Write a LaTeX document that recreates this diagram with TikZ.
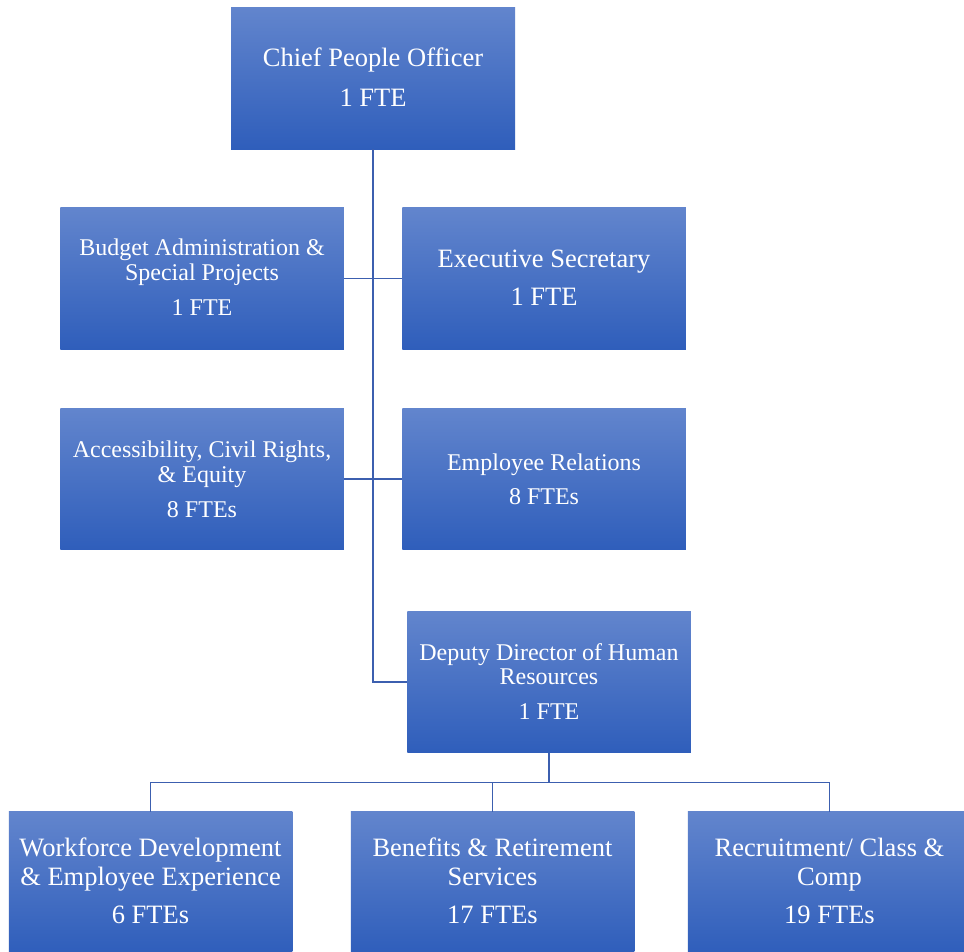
\documentclass[tikz,border=0pt]{standalone}
\usepackage{fontspec}
\setmainfont{Liberation Serif}
\definecolor{boxtop}{RGB}{98,133,205}
\definecolor{boxbot}{RGB}{47,94,187}
\definecolor{linec}{RGB}{60,95,175}
\tikzset{
  orgbox/.style={rectangle, draw=none, inner sep=0pt, minimum width=283.5pt, minimum height=141.5pt, top color=boxtop, bottom color=boxbot},
  bigtxt/.style={anchor=base, inner sep=0pt, text=white, font=\fontsize{26.5}{28}\selectfont},
  smalltxt/.style={anchor=base, inner sep=0pt, text=white, font=\fontsize{24}{25}\selectfont},
  conn/.style={draw=linec, line width=1.8pt}
}
\begin{document}
\begin{tikzpicture}[x=1pt, y=-1pt]
\clip (0,0) rectangle (964,951);
\fill[white] (0,0) rectangle (964,951);
% boxes
\node[orgbox, minimum width=284pt, minimum height=142pt] (chief) at (373,78) {};
\node[orgbox] (budget) at (202,278.5) {};
\node[orgbox] (exec) at (544,278.5) {};
\node[orgbox] (access) at (202,479) {};
\node[orgbox] (emprel) at (544,479) {};
\node[orgbox] (deputy) at (549,682) {};
\node[orgbox] (wf) at (150.5,882.5) {};
\node[orgbox] (ben) at (492.5,882.5) {};
\node[orgbox] (rec) at (829.5,882.5) {};
% connectors
\draw[conn] (chief.south) |- (deputy.west);
\draw[conn] (budget.east) -- (exec.west);
\draw[conn] (access.east) -- (emprel.west);
\coordinate (bus) at ([yshift=-29.5pt]deputy.south);
\draw[conn] (deputy.south) -- (bus);
\draw[conn] (bus) -| (wf.north);
\draw[conn] (bus) -| (rec.north);
\draw[conn] (bus -| ben.north) -- (ben.north);
% texts
\node[bigtxt] (chief-a) at ([yshift=-60pt]chief.north) {Chief People Officer};
\node[bigtxt] (chief-b) at ([yshift=-100pt]chief.north) {1 FTE};
\node[smalltxt] (budget-a) at ([yshift=-47.5pt]budget.north) {Budget Administration \&};
\node[smalltxt] (budget-b) at ([yshift=-72.5pt]budget.north) {Special Projects};
\node[smalltxt] (budget-c) at ([yshift=-108pt]budget.north) {1 FTE};
\node[bigtxt] (exec-a) at ([yshift=-60pt]exec.north) {Executive Secretary};
\node[bigtxt] (exec-b) at ([yshift=-98pt]exec.north) {1 FTE};
\node[smalltxt] (access-a) at ([yshift=-49pt]access.north) {Accessibility, Civil Rights,};
\node[smalltxt] (access-b) at ([yshift=-74pt]access.north) {\& Equity};
\node[smalltxt] (access-c) at ([yshift=-109pt]access.north) {8 FTEs};
\node[smalltxt] (emprel-a) at ([yshift=-62pt]emprel.north) {Employee Relations};
\node[smalltxt] (emprel-b) at ([yshift=-96pt]emprel.north) {8 FTEs};
\node[smalltxt] (deputy-a) at ([yshift=-49pt]deputy.north) {Deputy Director of Human};
\node[smalltxt] (deputy-b) at ([yshift=-73pt]deputy.north) {Resources};
\node[smalltxt] (deputy-c) at ([yshift=-108pt]deputy.north) {1 FTE};
\node[bigtxt] (wf-a) at ([yshift=-45pt]wf.north) {Workforce Development};
\node[bigtxt] (wf-b) at ([yshift=-74pt]wf.north) {\& Employee Experience};
\node[bigtxt] (wf-c) at ([yshift=-112pt]wf.north) {6 FTEs};
\node[bigtxt] (ben-a) at ([yshift=-45pt]ben.north) {Benefits \& Retirement};
\node[bigtxt] (ben-b) at ([yshift=-74pt]ben.north) {Services};
\node[bigtxt] (ben-c) at ([yshift=-112pt]ben.north) {17 FTEs};
\node[bigtxt] (rec-a) at ([yshift=-45pt]rec.north) {Recruitment/ Class \&};
\node[bigtxt] (rec-b) at ([yshift=-74pt]rec.north) {Comp};
\node[bigtxt] (rec-c) at ([yshift=-112pt]rec.north) {19 FTEs};
\end{tikzpicture}
\end{document}
